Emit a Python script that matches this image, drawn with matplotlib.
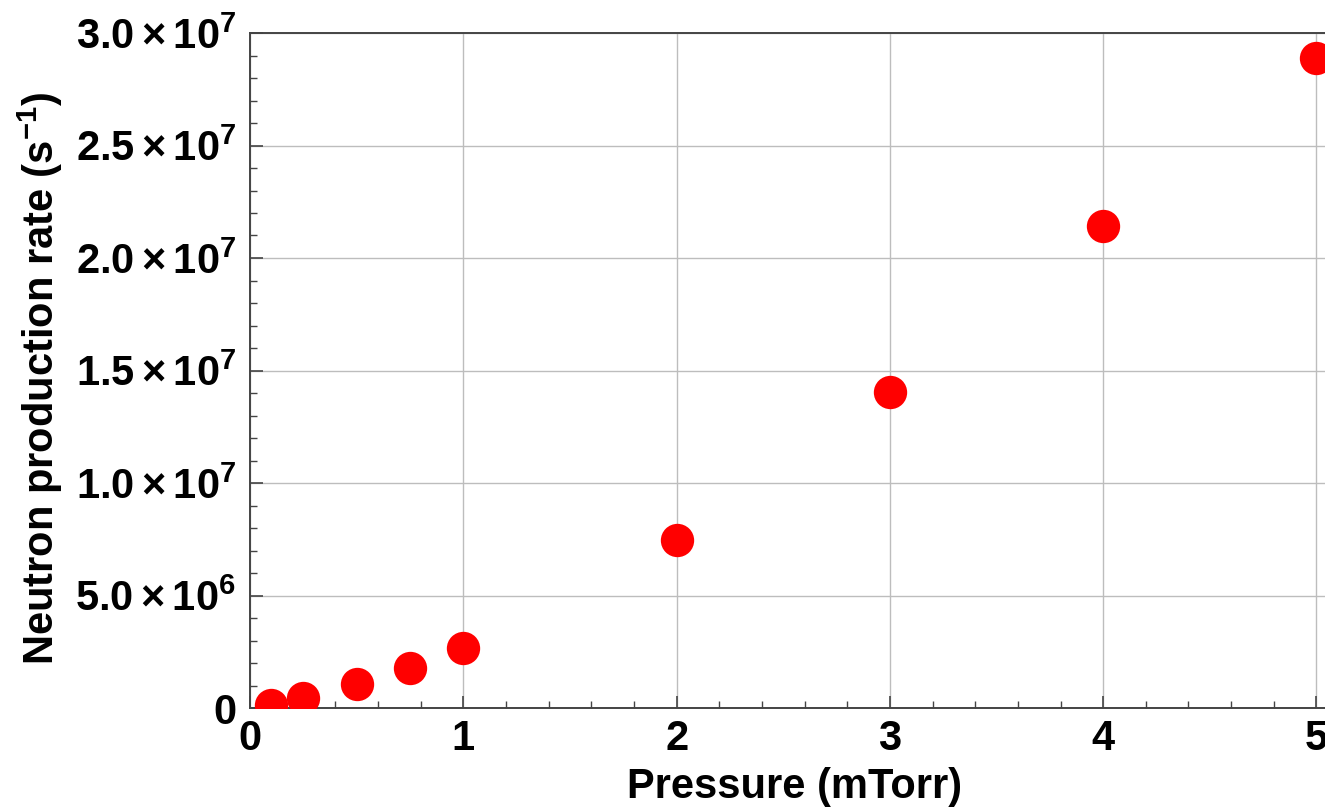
import matplotlib
matplotlib.use("Agg")
import matplotlib.pyplot as plt
from matplotlib.ticker import MultipleLocator, FixedLocator

plt.rcParams['font.family'] = ['Liberation Sans', 'DejaVu Sans']
plt.rcParams['font.weight'] = 'bold'
plt.rcParams['mathtext.fontset'] = 'custom'
plt.rcParams['mathtext.rm'] = 'Liberation Sans:bold'
plt.rcParams['mathtext.bf'] = 'Liberation Sans:bold'
plt.rcParams['mathtext.it'] = 'Liberation Sans:bold'

# pressure (mTorr) and measured neutron rate (1/s)
pressure = [0.1, 0.25, 0.5, 0.75, 1.0, 2.0, 3.0, 4.0, 5.0]
neutron_rate = [1.5e5, 4.4e5, 1.05e6, 1.78e6, 2.65e6, 7.47e6, 1.404e7, 2.142e7, 2.89e7]

y_major = [0, 5e6, 1e7, 1.5e7, 2e7, 2.5e7, 3e7]
y_labels = ['0', r'$5.0\times10^{6}$', r'$1.0\times10^{7}$', r'$1.5\times10^{7}$',
            r'$2.0\times10^{7}$', r'$2.5\times10^{7}$', r'$3.0\times10^{7}$']

fig = plt.figure(figsize=(13.25, 8.11), dpi=100)
ax = fig.add_axes([250 / 1325, 1 - 708 / 811, 1 - 250 / 1325, 675 / 811])

ax.plot(pressure, neutron_rate, 'o', color='#ff0000', markersize=24,
        markeredgewidth=0, clip_on=True, zorder=3)

ax.set_xlim(0, 5.04)
ax.set_ylim(0, 3e7)

ax.xaxis.set_major_locator(MultipleLocator(1))
ax.xaxis.set_minor_locator(MultipleLocator(0.2))
ax.yaxis.set_major_locator(FixedLocator(y_major))
ax.yaxis.set_minor_locator(MultipleLocator(1e6))
ax.set_yticklabels(y_labels)

ax.tick_params(which='both', direction='in', colors='#444444', labelcolor='black',
               labelsize=30, top=False, right=False)
ax.tick_params(which='major', length=9, width=1.2, pad=10)
ax.tick_params(which='minor', length=5, width=1.0)
ax.tick_params(axis='x', pad=8)

ax.grid(True, which='major', color='#bdbdbd', linewidth=1.0)
ax.set_axisbelow(True)

for side in ('left', 'bottom', 'top'):
    ax.spines[side].set_color('#444444')
    ax.spines[side].set_linewidth(1.4)
ax.spines['right'].set_visible(False)

ax.set_xlabel('Pressure (mTorr)', fontsize=30, fontweight='bold')
ax.set_ylabel(r'Neutron production rate (s$^{-1}$)', fontsize=30, fontweight='bold')
ax.xaxis.set_label_coords((795 - 250) / (1325 - 250), -0.088)
ax.yaxis.set_label_coords(-(250 - 65) / (1325 - 250), (811 - 378 - 103) / 675)

fig.savefig('out.png', dpi=100)
